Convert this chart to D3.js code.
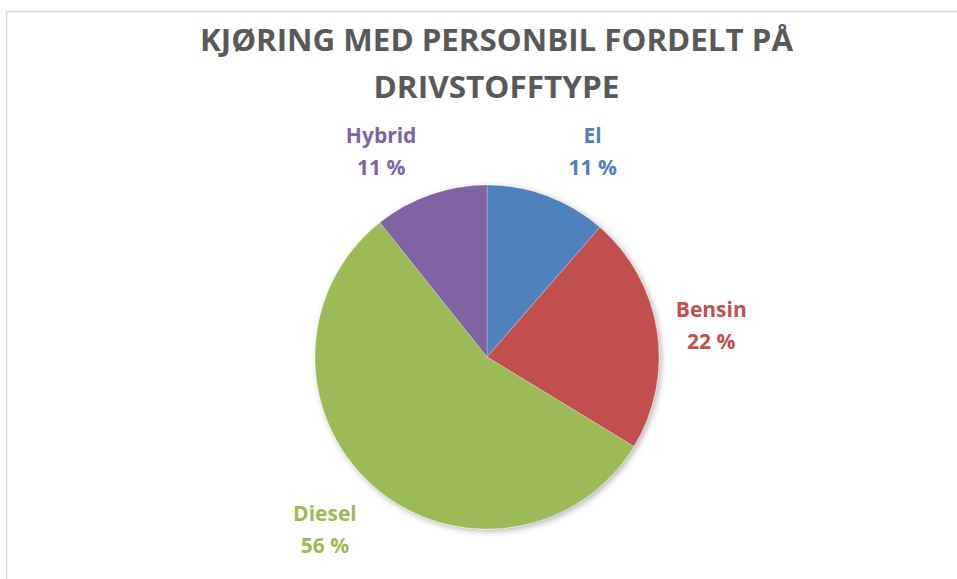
<!DOCTYPE html>
<html>
<head>
<meta charset="utf-8">
<script src="https://cdn.jsdelivr.net/npm/d3@7"></script>
<style>
  html, body { margin: 0; padding: 0; background: #fff; }
  svg { display: block; }
  .title { font-family: "Liberation Sans Narrow", "Open Sans", sans-serif; font-weight: bold; fill: #595959; }
  .label { font-family: "Open Sans", "Noto Sans", sans-serif; font-weight: bold; font-size: 21px; }
</style>
</head>
<body>
<svg id="chart" width="957" height="579"></svg>
<script>
var categories = ['El', 'Bensin', 'Diesel', 'Hybrid'];
var shares = [11.4, 22.3, 55.6, 10.7];
var shareLabels = ['11 %', '22 %', '56 %', '11 %'];
var colors = ['#4F81BD', '#C0504D', '#9BBB59', '#8064A2'];
var titleLines = ['KJØRING MED PERSONBIL FORDELT PÅ', 'DRIVSTOFFTYPE'];

var svg = d3.select('#chart');
var width = 957, height = 579;
var cx = 487, cy = 357, radius = 172;

// chart frame (only left and top edges are visible)
svg.append('rect')
  .attr('x', 6.5).attr('y', 11.5)
  .attr('width', width).attr('height', height)
  .attr('fill', 'none')
  .attr('stroke', '#d9d9d9')
  .attr('stroke-width', 1.5);

// title
svg.selectAll('.title')
  .data(titleLines)
  .enter()
  .append('text')
    .classed('title', true)
    .attr('x', 496.5)
    .attr('y', (d, i) => 51 + i * 47)
    .attr('text-anchor', 'middle')
    .attr('font-size', 31)
    .attr('textLength', (d, i) => i === 0 ? 593 : 246)
    .attr('lengthAdjust', 'spacingAndGlyphs')
    .text(d => d);

// soft shadow like the office chart
var defs = svg.append('defs');
var filter = defs.append('filter')
  .attr('id', 'shadow')
  .attr('x', '-20%').attr('y', '-20%')
  .attr('width', '140%').attr('height', '140%');
filter.append('feDropShadow')
  .attr('dx', 2).attr('dy', 2)
  .attr('stdDeviation', 3)
  .attr('flood-color', '#000')
  .attr('flood-opacity', 0.3);

var pie = d3.pie().sort(null).value(d => d);
var arcs = pie(shares);
var arc = d3.arc().innerRadius(0).outerRadius(radius);
var labelArc = d3.arc().innerRadius(230).outerRadius(230);

var g = svg.append('g')
  .attr('transform', `translate(${cx}, ${cy})`);

g.append('g')
  .attr('filter', 'url(#shadow)')
  .selectAll('path')
  .data(arcs)
  .enter()
  .append('path')
    .attr('d', arc)
    .attr('fill', (d, i) => colors[i])
    .attr('stroke', '#ffffff')
    .attr('stroke-opacity', 0.35)
    .attr('stroke-width', 0.75);

// nudges keep the labels clear of the pie, as Excel's best-fit does
var labelNudge = { El: [25, 10], Bensin: [-3, 4], Diesel: [-10, 0], Hybrid: [-30, 12] };

var labels = g.selectAll('.label')
  .data(arcs)
  .enter()
  .append('text')
    .classed('label', true)
    .attr('text-anchor', 'middle')
    .attr('fill', (d, i) => colors[i])
    .attr('transform', (d, i) => {
      var c = labelArc.centroid(d);
      var n = labelNudge[categories[i]];
      return `translate(${c[0] + n[0]}, ${c[1] + n[1]})`;
    });

labels.append('tspan')
  .attr('x', 0).attr('y', -8.5)
  .text((d, i) => categories[i]);
labels.append('tspan')
  .attr('x', 0).attr('y', 23.5)
  .text((d, i) => shareLabels[i]);
</script>
</body>
</html>
